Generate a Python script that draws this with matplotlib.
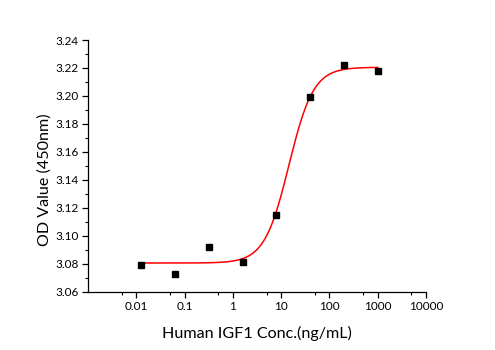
import matplotlib

matplotlib.use("Agg")
import matplotlib.pyplot as plt
import matplotlib.ticker as mticker
import numpy as np

# measured points (5-fold dilution series)
conc = [0.0128, 0.064, 0.32, 1.6, 8.0, 40.0, 200.0, 1000.0]
od = [3.079, 3.073, 3.092, 3.081, 3.115, 3.199, 3.222, 3.218]

# 4PL fit parameters
fit_bottom = 3.0805
fit_top = 3.2205
fit_ec50 = 14.5
fit_hill = 1.71

x_ticks = [0.01, 0.1, 1, 10, 100, 1000, 10000]
x_tick_labels = ["0.01", "0.1", "1", "10", "100", "1000", "10000"]
y_ticks = [3.06, 3.08, 3.10, 3.12, 3.14, 3.16, 3.18, 3.20, 3.22, 3.24]

plt.rcParams["font.family"] = ["Lato", "DejaVu Sans"]

fig = plt.figure(figsize=(4.95, 3.5), dpi=100)
ax = fig.add_axes([0.1778, 0.1666, 0.6828, 0.7191])

xs = np.logspace(np.log10(conc[0]), np.log10(conc[-1]), 300)
ys = fit_bottom + (fit_top - fit_bottom) / (1 + (fit_ec50 / xs) ** fit_hill)
ax.plot(xs, ys, color="#ff0000", lw=1.1, zorder=2)
ax.plot(conc, od, ls="none", marker="s", ms=4.2, color="black", zorder=3)

ax.set_xscale("log")
ax.set_xlim(0.001, 10000)
ax.set_ylim(3.06, 3.24)
ax.set_xticks(x_ticks, x_tick_labels)
ax.xaxis.set_minor_locator(mticker.LogLocator(base=10, subs=[5.0], numticks=20))
ax.xaxis.set_minor_formatter(mticker.NullFormatter())
ax.set_yticks(y_ticks, [f"{v:.2f}" for v in y_ticks])
ax.yaxis.set_minor_locator(mticker.MultipleLocator(0.01))

for side in ("top", "right"):
    ax.spines[side].set_visible(False)
for side in ("left", "bottom"):
    ax.spines[side].set_linewidth(0.9)

ax.tick_params(which="major", direction="out", length=4, width=0.9, labelsize=8.5, pad=2.5)
ax.tick_params(which="minor", direction="out", length=2.5, width=0.8)

ax.set_xlabel("Human IGF1 Conc.(ng/mL)", fontsize=11.6, labelpad=10)
ax.set_ylabel("OD Value (450nm)", fontsize=11.6, labelpad=3, y=0.446)

fig.savefig("out.png", dpi=100)
